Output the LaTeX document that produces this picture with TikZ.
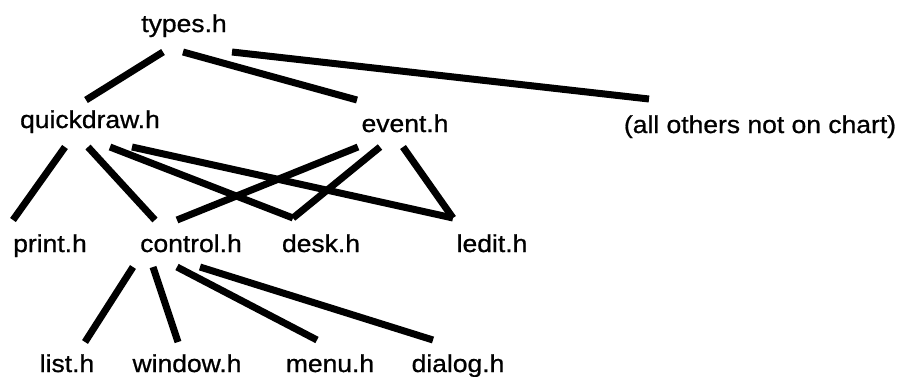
\documentclass[tikz,border=0pt]{standalone}
\usepackage{fontspec}
\setmainfont{Liberation Sans}[FakeStretch=1.08,FakeBold=0.8]
\begin{document}
\begin{tikzpicture}[x=1pt,y=-1pt,
  lbl/.style={anchor=base,inner sep=0pt,font=\fontsize{24.5}{28}\selectfont},
  wire/.style={line width=7pt,black}]
\useasboundingbox (0,0) rectangle (899,376);
\node[lbl] (types) at (184,32) {types.h};
\node[lbl] (qd) at (90,128) {quickdraw.h};
\node[lbl] (ev) at (405,132) {event.h};
\node[lbl] (oth) at (760,133) {(all others not on chart)};
\node[lbl] (pr) at (50,252) {print.h};
\node[lbl] (ct) at (191,252) {control.h};
\node[lbl] (dk) at (321,252) {desk.h};
\node[lbl] (le) at (492,252) {ledit.h};
\node[lbl] (li) at (67,372) {list.h};
\node[lbl] (wi) at (187,372) {window.h};
\node[lbl] (me) at (330,372) {menu.h};
\node[lbl] (di) at (458,372) {dialog.h};
% types
\draw[wire] ([shift={(-21,20)}]types.base) -- ([shift={(-4,-28)}]qd.base);
\draw[wire] ([shift={(-1,20)}]types.base) -- ([shift={(-48,-32)}]ev.base);
\draw[wire] ([shift={(48,20)}]types.base) -- ([shift={(-111,-34)}]oth.base);
% quickdraw
\draw[wire] ([shift={(-25,19)}]qd.base) -- ([shift={(-37,-32)}]pr.base);
\draw[wire] ([shift={(-2,19)}]qd.base) -- ([shift={(-36,-32)}]ct.base);
\draw[wire] ([shift={(20,19)}]qd.base) -- ([shift={(-28,-34)}]dk.base);
\draw[wire] ([shift={(42,19)}]qd.base) -- ([shift={(-39,-34)}]le.base);
% event
\draw[wire] ([shift={(-47,15)}]ev.base) -- ([shift={(-14,-32)}]ct.base);
\draw[wire] ([shift={(-25,15)}]ev.base) -- ([shift={(-28,-34)}]dk.base);
\draw[wire] ([shift={(-2,15)}]ev.base) -- ([shift={(-39,-34)}]le.base);
% control
\draw[wire] ([shift={(-58,15)}]ct.base) -- ([shift={(18,-30)}]li.base);
\draw[wire] ([shift={(-38,15)}]ct.base) -- ([shift={(-9,-30)}]wi.base);
\draw[wire] ([shift={(-14,15)}]ct.base) -- ([shift={(-13,-32)}]me.base);
\draw[wire] ([shift={(9,15)}]ct.base) -- ([shift={(-25,-32)}]di.base);
\end{tikzpicture}
\end{document}
